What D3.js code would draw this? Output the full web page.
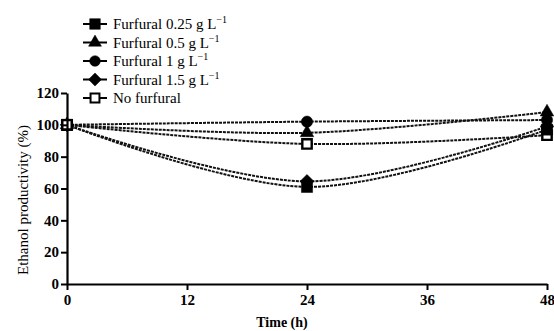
<!DOCTYPE html>
<html><head><meta charset="utf-8">
<script src="https://cdn.jsdelivr.net/npm/d3@7/dist/d3.min.js"></script>
<style>body{margin:0;background:#fff} svg text{font-family:'Liberation Serif',serif;}</style>
</head><body>
<svg id="c" width="554" height="331"></svg>
<script>
const timeHours = [0, 24, 48];
const xTicks = [0, 12, 24, 36, 48];
const yTicks = [0, 20, 40, 60, 80, 100, 120];
const seriesNames = ["Furfural 0.25 g L", "Furfural 0.5 g L", "Furfural 1 g L", "Furfural 1.5 g L", "No furfural"];
const seriesSup = ["\u22121", "\u22121", "\u22121", "\u22121", ""];
const seriesSymbols = ["square", "triangle", "circle", "diamond", "openSquare"];
const furfural025 = [100, 61, 97];
const furfural05 = [100, 95, 108];
const furfural1 = [100, 102, 103];
const furfural15 = [100, 64.5, 99];
const noFurfural = [100, 88, 93.5];
const seriesValues = [furfural025, furfural05, furfural1, furfural15, noFurfural];

const svg = d3.select("#c");
const m = {l: 67, r: 7, t: 93, b: 47};
const W = 554, H = 331;
const x = d3.scaleLinear().domain([0, 48]).range([m.l, W - m.r]);
const y = d3.scaleLinear().domain([0, 120]).range([H - m.b, m.t]);
const font = "'Liberation Serif', serif";

const wideDiamond = {draw(ctx, size) { const r = Math.sqrt(size / 2); ctx.moveTo(0, -r); ctx.lineTo(r, 0); ctx.lineTo(0, r); ctx.lineTo(-r, 0); ctx.closePath(); }};
function symbolPath(kind, size) {
  const map = {square: d3.symbolSquare, openSquare: d3.symbolSquare, triangle: d3.symbolTriangle, circle: d3.symbolCircle, diamond: wideDiamond};
  return d3.symbol().type(map[kind]).size(size)();
}
const symSize = {square: 125, openSquare: 88, triangle: 80, circle: 100, diamond: 95};

const line = d3.line().x((d, i) => x(timeHours[i])).y(d => y(d)).curve(d3.curveCardinal);

seriesValues.forEach((vals) => {
  svg.append("path").attr("d", line(vals)).attr("fill", "none")
    .attr("stroke", "#111").attr("stroke-width", 2).attr("stroke-dasharray", "3,1");
});
const markerOrder = [4, 3, 2, 0, 1];
markerOrder.forEach((s) => {
  const vals = seriesValues[s];
  const k = seriesSymbols[s];
  vals.forEach((v, i) => {
    svg.append("path").attr("d", symbolPath(k, symSize[k]))
      .attr("transform", `translate(${x(timeHours[i])},${y(v)})`)
      .attr("fill", k === "openSquare" ? "#fff" : "#000")
      .attr("stroke", "#000").attr("stroke-width", k === "openSquare" ? 2.4 : 0.5);
  });
});
// open squares on top at t=0
svg.append("path").attr("d", symbolPath("openSquare", symSize.openSquare))
  .attr("transform", `translate(${x(timeHours[0])},${y(noFurfural[0])})`)
  .attr("fill", "#fff").attr("stroke", "#000").attr("stroke-width", 2.4);

const xAxis = svg.append("g").attr("transform", `translate(0,${y(0)})`)
  .call(d3.axisBottom(x).tickValues(xTicks).tickSize(6).tickPadding(4).tickSizeOuter(0));
const yAxis = svg.append("g").attr("transform", `translate(${x(0)},0)`)
  .call(d3.axisLeft(y).tickValues(yTicks).tickSize(6).tickPadding(2).tickSizeOuter(0));
[xAxis, yAxis].forEach(g => {
  g.attr("font-family", font);
  g.selectAll("path.domain").attr("stroke", "#000").attr("stroke-width", 2.2);
  g.selectAll(".tick line").attr("stroke", "#000").attr("stroke-width", 2);
  g.selectAll("text").attr("fill", "#000")
    .style("font-size", "15px").style("font-weight", "bold");
});

svg.append("text").attr("x", 282).attr("y", 327).attr("text-anchor", "middle")
  .style("font-size", "14px").style("font-weight", "bold").text("Time (h)");
svg.append("text").attr("transform", `translate(28,200) rotate(-90)`).attr("text-anchor", "middle")
  .style("font-size", "15px").text("Ethanol productivity (%)");

const lg = svg.append("g");
seriesNames.forEach((n, i) => {
  const ly = 24 + i * 18.5;
  const k = seriesSymbols[i];
  lg.append("line").attr("x1", 83).attr("x2", 107).attr("y1", ly).attr("y2", ly)
    .attr("stroke", "#000").attr("stroke-width", 2);
  lg.append("path").attr("d", symbolPath(k, symSize[k] * 0.9)).attr("transform", `translate(95,${ly})`)
    .attr("fill", k === "openSquare" ? "#fff" : "#000").attr("stroke", "#000").attr("stroke-width", k === "openSquare" ? 2 : 0.5);
  const t = lg.append("text").attr("x", 113).attr("y", ly + 5)
    .style("font-size", "15px").text(n);
  if (seriesSup[i]) t.append("tspan").attr("dy", -6).style("font-size", "10px").text(seriesSup[i]);
});
</script>
</body></html>
